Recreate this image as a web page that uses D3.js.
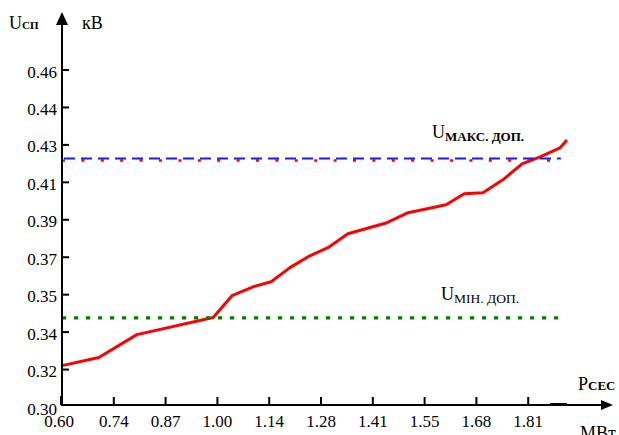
<!DOCTYPE html>
<html>
<head>
<meta charset="utf-8">
<script src="https://cdn.jsdelivr.net/npm/d3@7"></script>
<style>
  body { margin: 0; background: #fff; }
</style>
</head>
<body>
<div id="chart"></div>
<script>
// station power, MW
var pValues = [0.600, 0.696, 0.795, 0.994, 1.043, 1.098, 1.145, 1.194, 1.246, 1.293, 1.345,
               1.447, 1.502, 1.601, 1.648, 1.697, 1.749, 1.799, 1.846, 1.898, 1.916];
// busbar voltage, kV
var uValues = [0.3199, 0.3238, 0.3348, 0.3430, 0.3535, 0.3578, 0.3602, 0.3670, 0.3727, 0.3766, 0.3833,
               0.3886, 0.3934, 0.3972, 0.4025, 0.4030, 0.4092, 0.4169, 0.4202, 0.4246, 0.4284];

// permitted limits
var uMaxBlue = 0.4195;
var uMaxRed = 0.4185;
var uMin = 0.3428;
var limitStart = 0.60;
var limitEnd = 1.9;

// tick labels as printed on the original
var xTickLabels = ["0.60", "0.74", "0.87", "1.00", "1.14", "1.28", "1.41", "1.55", "1.68", "1.81"];
var yTickLabels = ["0.30", "0.32", "0.34", "0.35", "0.37", "0.39", "0.41", "0.43", "0.44", "0.46"];
var xTickStep = 0.135;
var yTickStep = 0.018;

var width = 619, height = 435;
var serif = "'Liberation Serif', 'Times New Roman', serif";

var svg = d3.select("#chart").append("svg")
    .attr("width", width)
    .attr("height", height)
    .attr("font-family", serif);

var x = d3.scaleLinear().domain([0.6, 2.0]).range([62, 599.2]);
var y = d3.scaleLinear().domain([0.30, 0.462]).range([407, 70]);

var axisY = 405;   // x axis sits a little above the 0.30 tick

var xTicks = xTickLabels.map(function(d, i) { return 0.6 + i * xTickStep; });
var yTicks = yTickLabels.map(function(d, i) { return 0.30 + i * yTickStep; });

// red curve
var line = d3.line()
    .x(function(d) { return x(d[0]); })
    .y(function(d) { return y(d[1]); });

svg.append("path")
    .datum(d3.zip(pValues, uValues))
    .attr("d", line)
    .attr("fill", "none")
    .attr("stroke", "#ff0000")
    .attr("stroke-width", 3)
    .attr("stroke-linejoin", "round");

// limit lines
svg.append("line")
    .attr("x1", x(limitStart)).attr("x2", x(limitEnd))
    .attr("y1", y(uMaxRed)).attr("y2", y(uMaxRed))
    .attr("stroke", "#ff0000")
    .attr("stroke-width", 2.5)
    .attr("stroke-dasharray", "3,16.4");

svg.append("line")
    .attr("x1", x(limitStart) + 2).attr("x2", x(limitEnd))
    .attr("y1", y(uMaxBlue)).attr("y2", y(uMaxBlue))
    .attr("stroke", "#1a1aff")
    .attr("stroke-width", 2)
    .attr("stroke-dasharray", "11,6");

svg.append("line")
    .attr("x1", x(limitStart)).attr("x2", x(limitEnd))
    .attr("y1", y(uMin)).attr("y2", y(uMin))
    .attr("stroke", "#008000")
    .attr("stroke-width", 3.2)
    .attr("stroke-dasharray", "4.2,7.8");

// axes
var axes = svg.append("g").attr("stroke", "#000").attr("stroke-width", 2);

axes.append("line")
    .attr("x1", x(0.6)).attr("x2", 606)
    .attr("y1", axisY).attr("y2", axisY);
axes.append("line")
    .attr("x1", x(0.6)).attr("x2", x(0.6))
    .attr("y1", axisY + 1).attr("y2", 22);
// odd thicker bits of the original axes
axes.append("line")
    .attr("x1", 550).attr("x2", 567)
    .attr("y1", axisY - 1).attr("y2", axisY - 1);
axes.append("line")
    .attr("x1", x(0.6) - 1).attr("x2", x(0.6) - 1)
    .attr("y1", axisY).attr("y2", axisY - 9);

// arrow heads
svg.append("path")
    .attr("d", "M" + (x(0.6)) + ",12 L" + (x(0.6) - 6) + ",25 L" + (x(0.6) + 6) + ",25 Z")
    .attr("fill", "#000");
svg.append("path")
    .attr("d", "M613," + axisY + " L601," + (axisY - 5) + " L601," + (axisY + 5) + " Z")
    .attr("fill", "#000");

// tick marks
axes.selectAll(".ytick")
    .data(yTicks.slice(1))
  .enter().append("line")
    .attr("class", "ytick")
    .attr("x1", x(0.6)).attr("x2", x(0.6) + 7)
    .attr("y1", function(d) { return y(d); })
    .attr("y2", function(d) { return y(d); });

axes.selectAll(".xtick")
    .data(xTicks.slice(1))
  .enter().append("line")
    .attr("class", "xtick")
    .attr("x1", function(d) { return x(d); })
    .attr("x2", function(d) { return x(d); })
    .attr("y1", axisY).attr("y2", axisY - 8);

// tick labels
svg.selectAll(".ylab")
    .data(yTicks)
  .enter().append("text")
    .attr("class", "ylab")
    .attr("x", 57)
    .attr("y", function(d) { return y(d) + 7.5; })
    .attr("text-anchor", "end")
    .style("font-family", serif)
    .style("font-size", "17px")
    .text(function(d, i) { return yTickLabels[i]; });

svg.selectAll(".xlab")
    .data(xTicks)
  .enter().append("text")
    .attr("class", "xlab")
    .attr("x", function(d, i) { return i == 0 ? x(d) - 3 : x(d); })
    .attr("y", 427)
    .attr("text-anchor", "middle")
    .style("font-family", serif)
    .style("font-size", "17px")
    .text(function(d, i) { return xTickLabels[i]; });

// axis titles
function subLabel(px, py, main, sub, subSize, bold, shift) {
  var t = svg.append("text")
      .attr("x", px).attr("y", py)
      .style("font-family", serif)
      .style("font-size", "18px");
  t.append("tspan").text(main);
  t.append("tspan")
      .attr("dy", shift)
      .style("font-size", subSize + "px")
      .style("font-weight", bold ? "bold" : "normal")
      .text(sub);
  return t;
}

subLabel(9, 29, "U", "СП", 11, true, 0);
svg.append("text")
    .attr("x", 82).attr("y", 29)
    .style("font-family", serif)
    .style("font-size", "18px")
    .text("кВ");

subLabel(578, 390, "P", "СЕС", 13, true, 0);
svg.append("text")
    .attr("x", 580).attr("y", 439)
    .style("font-family", serif)
    .style("font-size", "18px")
    .text("МВт");

// limit labels
subLabel(432, 138, "U", "МАКС. ДОП.", 13, true, 3);
subLabel(441, 300, "U", "МІН. ДОП.", 13.5, false, 3);
</script>
</body>
</html>
